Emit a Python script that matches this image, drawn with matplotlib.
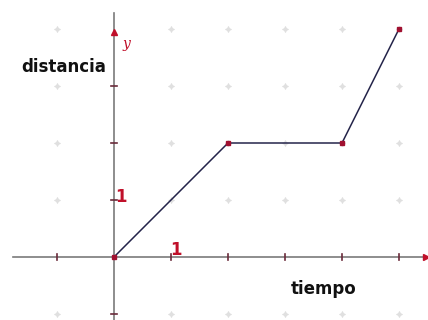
import matplotlib
matplotlib.use("Agg")
import matplotlib.pyplot as plt

tiempo = [0, 2, 4, 5]
distancia = [0, 2, 2, 4]
grid_x = [-1, 1, 2, 3, 4, 5]
grid_y = [-1, 1, 2, 3, 4]
xticks = [-1, 1, 2, 3, 4, 5]
yticks = [-1, 1, 2, 3]

fig = plt.figure(figsize=(4.28, 3.2), dpi=100)
ax = fig.add_axes([0, 0, 1, 1])
ax.set_xlim(-2.0, 314 / 57)
ax.set_ylim(-63 / 57, 257 / 57)
ax.axis("off")

# grid dots
for gx in grid_x:
    for gy in grid_y:
        ax.plot(gx, gy, marker="+", color="#d0d0d0", markersize=4, mew=0.8, zorder=1)
        ax.plot(gx, gy, marker="D", color="#e0e0e0", markersize=2, zorder=1)

# axes
ax.plot([-1.78, 5.45], [0, 0], color="#7a7a7a", lw=1.2, zorder=2)
ax.plot([0, 0], [-1.2, 4.28], color="#7a7a7a", lw=1.2, zorder=2)
ax.plot(5.47, 0, marker=">", color="#c0102a", markersize=5, zorder=3)
ax.plot(0, 3.95, marker="^", color="#c0102a", markersize=5, zorder=3)
for t in xticks:
    ax.plot([t, t], [-0.05, 0.05], color="#6a2a3a", lw=1.2, zorder=3)
for t in yticks:
    ax.plot([-0.05, 0.05], [t, t], color="#6a2a3a", lw=1.2, zorder=3)

# data
ax.plot(tiempo, distancia, color="#24244a", lw=1.1, zorder=4)
ax.plot(tiempo, distancia, ls="none", marker="s", color="#a01030", markersize=3, zorder=5)

# labels
ax.text(0.22, 3.74, "y", color="#c0102a", fontsize=10, style="italic", family="DejaVu Serif",
        ha="center", va="center")
ax.text(-0.89, 3.33, "distancia", color="#111111", fontsize=12, fontweight="bold",
        ha="center", va="center")
ax.text(3.67, -0.56, "tiempo", color="#111111", fontsize=12, fontweight="bold",
        ha="center", va="center")
ax.text(0.13, 1.05, "1", color="#c0102a", fontsize=12, fontweight="bold", ha="center", va="center")
ax.text(1.09, 0.12, "1", color="#c0102a", fontsize=12, fontweight="bold", ha="center", va="center")

fig.savefig("out.png", dpi=100)
